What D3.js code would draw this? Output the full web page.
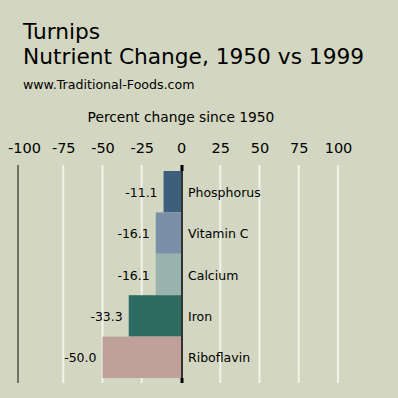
<!DOCTYPE html>
<html>
<head>
<meta charset="utf-8">
<script src="https://cdn.jsdelivr.net/npm/d3@7"></script>
<style>
  html, body { margin: 0; padding: 0; background: #d3d7c1; }
  svg { display: block; font-family: "DejaVu Sans", sans-serif; }
</style>
</head>
<body>
<svg id="chart" width="398" height="398"></svg>
<script>
// data
const nutrients = ['Phosphorus', 'Vitamin C', 'Calcium', 'Iron', 'Riboflavin'];
const changes = [-11.1, -16.1, -16.1, -33.3, -50.0];
const barColors = ['#3e5f7b', '#7b90a8', '#99b4ac', '#2e6b62', '#bfa09b'];
const tickValues = [-100, -75, -50, -25, 0, 25, 50, 75, 100];

const svg = d3.select('#chart');

// titles
svg.append('text').attr('x', 23).attr('y', 39)
  .attr('font-size', 21.7).attr('fill', '#000').text('Turnips');
svg.append('text').attr('x', 23).attr('y', 64)
  .attr('font-size', 21.7).attr('fill', '#000').text('Nutrient Change, 1950 vs 1999');
svg.append('text').attr('x', 23).attr('y', 89)
  .attr('font-size', 12.6).attr('fill', '#000').text('www.Traditional-Foods.com');

// scales
const x = d3.scaleLinear().domain([-100, 100]).range([24, 338]);
const y = d3.scaleBand().domain(nutrients).range([171, 378]).padding(0);

const gridTop = 165, gridBottom = 383;

svg.append('text').attr('x', x(0)).attr('y', 122)
  .attr('text-anchor', 'middle').attr('font-size', 13.8)
  .text('Percent change since 1950');

// grid lines
svg.append('g').selectAll('line')
  .data(tickValues.filter(d => d > -100 && d !== 0))
  .join('line')
  .attr('x1', d => x(d)).attr('x2', d => x(d))
  .attr('y1', gridTop).attr('y2', gridBottom)
  .attr('stroke', '#f2f2ea').attr('stroke-width', 2);

// left boundary line
svg.append('line')
  .attr('x1', x(-100) - 6).attr('x2', x(-100) - 6)
  .attr('y1', gridTop).attr('y2', gridBottom)
  .attr('stroke', '#6e7262').attr('stroke-width', 2);

// top axis labels (plain hyphen minus)
const axis = d3.axisTop(x).tickValues(tickValues).tickSize(0).tickPadding(0)
  .tickFormat(d => String(d));
const ax = svg.append('g').attr('transform', 'translate(0,153)').call(axis);
ax.select('.domain').remove();
ax.selectAll('text').attr('font-size', 14.5).attr('fill', '#000')
  .attr('font-family', '"DejaVu Sans", sans-serif');

// bars
const idx = nutrients.map((n, i) => i);
svg.append('g').selectAll('rect')
  .data(idx)
  .join('rect')
  .attr('x', i => x(changes[i]))
  .attr('y', i => y(nutrients[i]))
  .attr('width', i => x(0) - x(changes[i]))
  .attr('height', y.bandwidth())
  .attr('fill', i => barColors[i]);

// zero line
svg.append('line')
  .attr('x1', x(0) + 1).attr('x2', x(0) + 1)
  .attr('y1', gridTop).attr('y2', gridBottom)
  .attr('stroke', '#333').attr('stroke-width', 2);
svg.append('line')
  .attr('x1', x(0) + 1).attr('x2', x(0) + 1)
  .attr('y1', gridTop).attr('y2', y(nutrients[0]))
  .attr('stroke', '#000').attr('stroke-width', 3);
svg.append('line')
  .attr('x1', x(0) + 1).attr('x2', x(0) + 1)
  .attr('y1', y.range()[1]).attr('y2', gridBottom)
  .attr('stroke', '#000').attr('stroke-width', 3);

// value labels
svg.append('g').selectAll('text')
  .data(idx)
  .join('text')
  .attr('x', i => x(changes[i]) - 6)
  .attr('y', i => y(nutrients[i]) + y.bandwidth() / 2 + 5)
  .attr('text-anchor', 'end').attr('font-size', 12.5)
  .text(i => changes[i].toFixed(1));

// category labels
svg.append('g').selectAll('text')
  .data(nutrients)
  .join('text')
  .attr('x', x(0) + 7)
  .attr('y', d => y(d) + y.bandwidth() / 2 + 5)
  .attr('font-size', 12.5)
  .text(d => d);
</script>
</body>
</html>
